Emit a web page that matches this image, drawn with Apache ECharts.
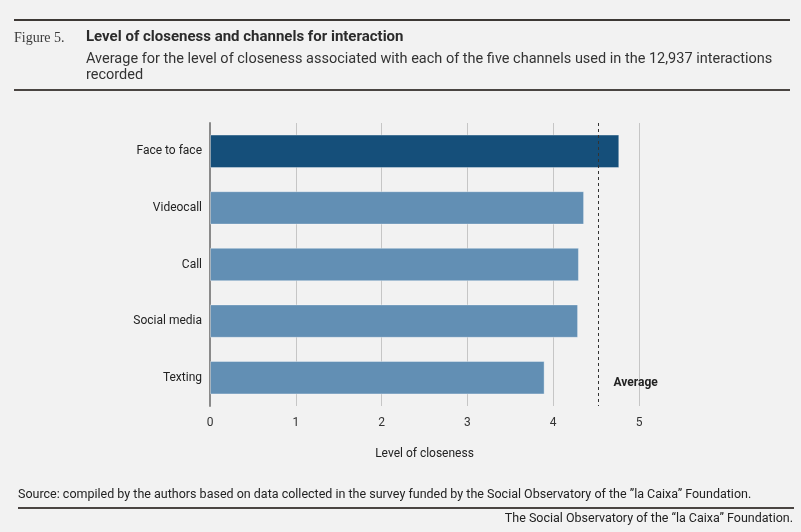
<!DOCTYPE html>
<html>
<head>
<meta charset="utf-8">
<script src="https://cdn.jsdelivr.net/npm/echarts@6/dist/echarts.min.js"></script>
<style>
html,body{margin:0;padding:0;background:#f2f2f2;}
#chart{width:801px;height:532px;}
</style>
</head>
<body>
<div id="chart"></div>
<script>
var categories = ['Face to face', 'Videocall', 'Call', 'Social media', 'Texting'];
var closeness = [4.77, 4.36, 4.30, 4.29, 3.90];
var averageValue = 4.53;
var xTicks = [0, 1, 2, 3, 4, 5];
var highlightCategory = 'Face to face';

var chart = echarts.init(document.getElementById('chart'));
var font = 'Roboto, "Noto Sans", sans-serif';

var barData = closeness.map(function (v, i) {
  return {
    value: v,
    itemStyle: { color: categories[i] === highlightCategory ? '#154f7a' : '#628fb4' }
  };
});

chart.setOption({
  backgroundColor: '#f2f2f2',
  animation: false,
  textStyle: { fontFamily: font },
  grid: { left: 210, right: 162, top: 123, bottom: 126, containLabel: false },
  xAxis: {
    type: 'value',
    min: xTicks[0],
    max: xTicks[xTicks.length - 1],
    interval: 1,
    axisLine: { show: false },
    axisTick: { show: false },
    axisLabel: { color: '#333', fontSize: 12, margin: 11, fontFamily: font },
    splitLine: { show: true, lineStyle: { color: '#c6c6c6', width: 1 } },
    name: 'Level of closeness',
    nameLocation: 'middle',
    nameGap: 42,
    nameTextStyle: { color: '#222', fontSize: 12, fontFamily: font }
  },
  yAxis: {
    type: 'category',
    data: categories,
    inverse: true,
    axisLine: { show: true, lineStyle: { color: '#8a8a8a', width: 2 } },
    axisTick: { show: false },
    axisLabel: { color: '#222', fontSize: 12, margin: 8, fontFamily: font }
  },
  series: [{
    type: 'bar',
    data: barData,
    barCategoryGap: '41%',
    itemStyle: { borderColor: 'rgba(255,255,255,0.35)', borderWidth: 1 },
    markLine: {
      silent: true,
      symbol: ['none', 'none'],
      label: { show: false },
      lineStyle: { color: '#333', type: [3, 3], width: 1 },
      data: [{ xAxis: averageValue }]
    }
  }]
});

var avgX = chart.convertToPixel({ xAxisIndex: 0 }, averageValue);
var lastY = chart.convertToPixel({ yAxisIndex: 0 }, categories[categories.length - 1]);

chart.setOption({
  graphic: [
    { type: 'rect', shape: { x: 14, y: 19, width: 776, height: 2 }, style: { fill: '#3d3835' } },
    { type: 'text', left: 14, top: 31, style: { text: 'Figure 5.', font: '14px "Liberation Serif", "DejaVu Serif", serif', fill: '#3a3a3a' } },
    { type: 'text', left: 86, top: 30, style: { text: 'Level of closeness and channels for interaction', font: 'bold 15px ' + font, fill: '#2b2b2b' } },
    { type: 'text', left: 86, top: 51, style: { text: 'Average for the level of closeness associated with each of the five channels used in the 12,937 interactions\nrecorded', font: '14.5px ' + font, fill: '#333', lineHeight: 16.5 } },
    { type: 'rect', shape: { x: 14, y: 89, width: 776, height: 2 }, style: { fill: '#4a4542' } },
    { type: 'text', x: avgX + 37, y: lastY + 5, style: { text: 'Average', font: 'bold 12px ' + font, fill: '#222', textAlign: 'center', textVerticalAlign: 'middle' } },
    { type: 'text', left: 18, top: 488, style: { text: 'Source: compiled by the authors based on data collected in the survey funded by the Social Observatory of the \u201dla Caixa\u201d Foundation.', font: '12.5px ' + font, fill: '#222' } },
    { type: 'rect', shape: { x: 18, y: 507, width: 776, height: 2 }, style: { fill: '#4a4542' } },
    { type: 'text', right: 8, top: 512, style: { text: 'The Social Observatory of the \u201cla Caixa\u201d Foundation.', font: '12.5px ' + font, fill: '#222' } }
  ]
});
</script>
</body>
</html>
